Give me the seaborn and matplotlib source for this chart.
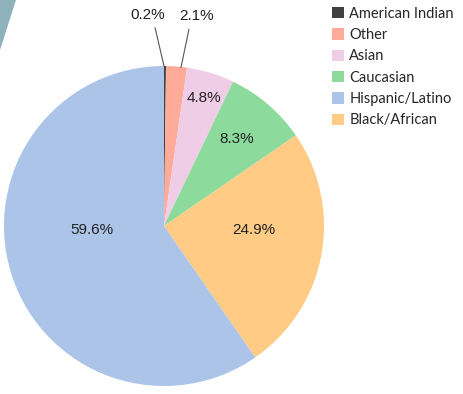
import matplotlib
matplotlib.use("Agg")
import matplotlib.pyplot as plt
import numpy as np
import seaborn as sns
from matplotlib.patches import Patch, Polygon

# ---- data -------------------------------------------------------------------
groups = ["American Indian", "Other", "Asian", "Caucasian", "Black/African", "Hispanic/Latino"]
shares = [0.2, 2.1, 4.8, 8.3, 24.9, 59.6]
colors = ["#404040", "#ffab9a", "#f0cde6", "#8ddb9c", "#ffcb85", "#abc4e8"]
legend_order = ["American Indian", "Other", "Asian", "Caucasian", "Hispanic/Latino", "Black/African"]

sns.set_theme(style="white")
plt.rcParams["font.family"] = ["Liberation Sans", "DejaVu Sans"]

W, H = 463, 394
fig = plt.figure(figsize=(W / 100, H / 100), dpi=100)

# decorative corner shape
fig.patches.append(Polygon([(0, 1), (16 / W, 1), (0, 1 - 50 / H)], closed=True,
                           transform=fig.transFigure, facecolor="#8fb1bb",
                           edgecolor="none"))

ax = fig.add_axes([4 / W, 8 / H, 320 / W, 320 / H])
wedges, _ = ax.pie(shares, colors=colors, startangle=90, counterclock=False,
                   radius=1, wedgeprops=dict(linewidth=0))
ax.set_xlim(-1, 1)
ax.set_ylim(-1, 1)
ax.set_aspect("equal")
ax.axis("off")

# inside labels: (radius, angle) in polar coords from the top, clockwise
inside = {2: (0.84, 17.5), 3: (0.71, 40.0), 4: (0.56, 92.5), 5: (0.45, 267.0)}
for i, (r, a) in inside.items():
    t = np.deg2rad(a)
    ax.text(r * np.sin(t), r * np.cos(t), f"{shares[i]}%", ha="center", va="center",
            fontsize=11, color="#222222")

# outside labels with leader lines
outside = {0: ((-0.10, 1.32), (0.0, 1.0), (-0.056, 1.24)),
           1: ((0.206, 1.31), (0.106, 0.99), (0.156, 1.23))}
for i, (txt, p0, p1) in outside.items():
    ax.plot([p0[0], p1[0]], [p0[1], p1[1]], color="#555555", lw=0.8, clip_on=False)
    ax.text(txt[0], txt[1], f"{shares[i]}%", ha="center", va="center",
            fontsize=11, color="#222222", clip_on=False)

handles = [Patch(facecolor=colors[groups.index(g)], edgecolor="none") for g in legend_order]
fig.legend(handles, legend_order, loc="upper left", bbox_to_anchor=(326 / W, 1 - 1 / H),
           frameon=False, handlelength=0.8, handleheight=0.8,
           handletextpad=0.4, labelspacing=0.5, borderaxespad=0,
           prop={"family": ["Lato", "DejaVu Sans"], "size": 10.5})

fig.savefig("out.png", dpi=100)
